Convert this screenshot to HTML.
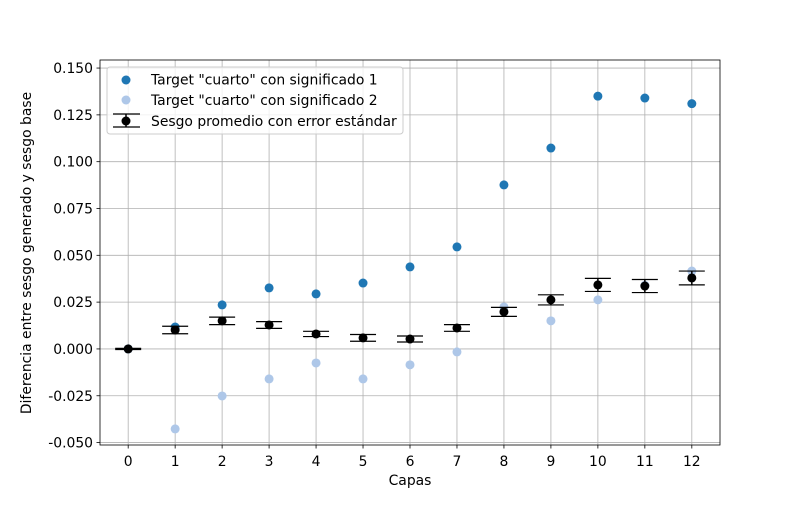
<!DOCTYPE html>
<html><head><meta charset="utf-8"><style>
body{margin:0;background:#fff;}
svg{font-family:"DejaVu Sans","Liberation Sans",sans-serif;}
</style></head><body>
<svg id="c" width="800" height="500" xmlns="http://www.w3.org/2000/svg"></svg>
<script>
const layers=[0,1,2,3,4,5,6,7,8,9,10,11,12];
const sense1=[0,0.0117,0.0235,0.0326,0.0294,0.0352,0.0438,0.0545,0.0876,0.1073,0.135,0.134,0.131];
const sense2=[0,-0.0427,-0.0251,-0.016,-0.0075,-0.016,-0.0085,-0.0016,0.0224,0.015,0.0262,0.034,0.0416];
const meanBias=[0,0.0101,0.015,0.0128,0.008,0.0059,0.0053,0.0112,0.0198,0.0262,0.0342,0.0336,0.0379];
const stdErr=[0.0003,0.002,0.002,0.0018,0.0014,0.0018,0.0016,0.0018,0.0024,0.0027,0.0035,0.0035,0.0037];
const yTicks=[-0.05,-0.025,0,0.025,0.05,0.075,0.1,0.125,0.15];
const L=100,R=720,T=60,B=445,xMin=-0.6,xMax=12.6,yMin=-0.0513,yMax=0.1543;
const X=v=>L+(v-xMin)/(xMax-xMin)*(R-L);
const Y=v=>B-(v-yMin)/(yMax-yMin)*(B-T);
const svg=document.getElementById('c');
const NS='http://www.w3.org/2000/svg';
function mk(tag,attrs,parent){const e=document.createElementNS(NS,tag);for(const k in attrs)e.setAttribute(k,attrs[k]);(parent||svg).appendChild(e);return e;}
layers.forEach(v=>{const l=mk('line',{x1:X(v),x2:X(v),y1:T,y2:B,stroke:'#b0b0b0','stroke-width':0.8});

});
yTicks.forEach(v=>{const l=mk('line',{x1:L,x2:R,y1:Y(v),y2:Y(v),stroke:'#b0b0b0','stroke-width':0.8});

});
layers.forEach(v=>{mk('line',{x1:X(v),x2:X(v),y1:B,y2:B+3.5,stroke:'#000','stroke-width':0.8});
const t=mk('text',{x:X(v),y:B+21,'text-anchor':'middle','font-size':13.9});t.textContent=v;

});
yTicks.forEach(v=>{mk('line',{x1:L-3.5,x2:L,y1:Y(v),y2:Y(v),stroke:'#000','stroke-width':0.8});
const t=mk('text',{x:L-7,y:Y(v)+5,'text-anchor':'end','font-size':13.9});t.textContent=v.toFixed(3);

});
layers.forEach((v,i)=>{const c=mk('circle',{cx:X(v),cy:Y(sense1[i]),r:4.5,fill:'#1f77b4'});

});
layers.forEach((v,i)=>{const c=mk('circle',{cx:X(v),cy:Y(sense2[i]),r:4.5,fill:'#aec7e8'});

});
layers.forEach((v,i)=>{const g=mk('g',{});


const x=X(v),y1=Y(meanBias[i]+stdErr[i]),y2=Y(meanBias[i]-stdErr[i]);
mk('line',{x1:x,x2:x,y1:y1,y2:y2,stroke:'#000','stroke-width':1.5},g);
mk('line',{x1:x-13,x2:x+13,y1:y1,y2:y1,stroke:'#000','stroke-width':1.2},g);
mk('line',{x1:x-13,x2:x+13,y1:y2,y2:y2,stroke:'#000','stroke-width':1.2},g);
mk('circle',{cx:x,cy:Y(meanBias[i]),r:4.5,fill:'#000'},g);});
const f=mk('rect',{x:L,y:T,width:R-L,height:B-T,fill:'none',stroke:'#000','stroke-width':0.8});


</script>
<svg style="position:absolute;left:0;top:0" width="800" height="500" xmlns="http://www.w3.org/2000/svg">
<text x="410" y="485" text-anchor="middle" font-size="13.9">Capas</text>
<text transform="translate(31,253) rotate(-90)" text-anchor="middle" font-size="13.9">Diferencia entre sesgo generado y sesgo base</text>
<g>
<rect x="107" y="67" width="296" height="67" rx="3" fill="#fff" fill-opacity="0.8" stroke="#ccc"/>
<g><circle cx="126" cy="80" r="4.5" fill="#1f77b4"/><text x="151" y="84.5" font-size="13.9">Target "cuarto" con significado 1</text></g>
<g><circle cx="126" cy="100" r="4.5" fill="#aec7e8"/><text x="151" y="105" font-size="13.9">Target "cuarto" con significado 2</text></g>
<g><line x1="113" x2="140" y1="114" y2="114" stroke="#000" stroke-width="1.2"/><line x1="113" x2="140" y1="127" y2="127" stroke="#000" stroke-width="1.2"/><line x1="126" x2="126" y1="114" y2="127" stroke="#000" stroke-width="1.5"/><circle cx="126" cy="121" r="4.5" fill="#000"/><text x="151" y="126" font-size="13.9">Sesgo promedio con error estándar</text></g>
</g>
</svg>
</body></html>
